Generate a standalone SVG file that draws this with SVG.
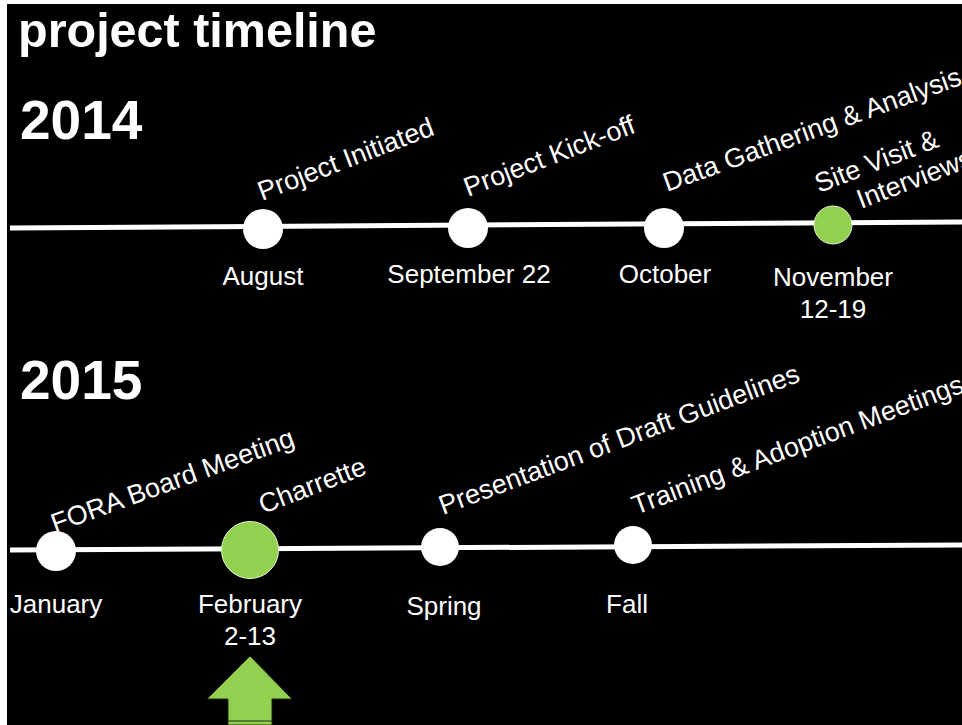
<svg xmlns="http://www.w3.org/2000/svg" width="962" height="725" viewBox="0 0 962 725">
  <style>
    .lbl { font-family: "Liberation Sans", Arial, sans-serif; font-size: 26px; fill: #ffffff; }
    .tag { font-family: "Liberation Sans", Arial, sans-serif; font-size: 27px; fill: #ffffff; }
    .mid { text-anchor: middle; }
    .year { font-family: "Liberation Sans", Arial, sans-serif; font-size: 55px; font-weight: bold; fill: #ffffff; }
    .title { font-family: "Liberation Sans", Arial, sans-serif; font-size: 48.5px; font-weight: bold; fill: #ffffff; }
    .track { stroke: #ffffff; stroke-width: 5; fill: none; }
    .dot { fill: #ffffff; }
    .hot { fill: #92d050; stroke: #e4f4d2; stroke-width: 1; }
  </style>

  <!-- page frame -->
  <rect x="0" y="0" width="962" height="725" fill="#ffffff"/>
  <rect x="7" y="4" width="955" height="721" fill="#000000"/>

  <text class="title" x="18" y="47">project timeline</text>
  <text class="year" x="20" y="139">2014</text>
  <text class="year" x="20" y="399">2015</text>

  <!-- timeline tracks -->
  <g id="connectors">
    <line class="track" x1="10" y1="228" x2="962" y2="222"/>
    <line class="track" x1="10" y1="550" x2="962" y2="545"/>
  </g>

  <!-- 2014 milestones -->
  <g id="aug2014">
    <circle class="dot" cx="263" cy="229" r="20"/>
    <text class="tag" transform="translate(262,201) rotate(-21)">Project Initiated</text>
    <text class="lbl mid" x="263" y="285">August</text>
  </g>
  <g id="sep2014">
    <circle class="dot" cx="468" cy="228" r="20"/>
    <text class="tag" transform="translate(468,197) rotate(-21)">Project Kick-off</text>
    <text class="lbl mid" x="469" y="283">September 22</text>
  </g>
  <g id="oct2014">
    <circle class="dot" cx="664" cy="228" r="20"/>
    <text class="tag" transform="translate(667,192) rotate(-20)">Data Gathering &amp; Analysis</text>
    <text class="lbl mid" x="665" y="283">October</text>
  </g>
  <g id="nov2014">
    <circle class="hot" cx="833" cy="225" r="19"/>
    <text class="tag" transform="translate(819,193) rotate(-21)">Site Visit &amp;</text>
    <text class="tag" transform="translate(861,209) rotate(-21)">Interviews</text>
    <text class="lbl mid" x="833" y="286">November</text>
    <text class="lbl mid" x="833" y="318">12-19</text>
  </g>

  <!-- 2015 milestones -->
  <g id="jan2015">
    <circle class="dot" cx="56" cy="551" r="20"/>
    <text class="tag" transform="translate(55,533) rotate(-20)">FORA Board Meeting</text>
    <text class="lbl mid" x="56" y="613">January</text>
  </g>
  <g id="feb2015">
    <circle class="hot" cx="250" cy="550" r="28.5"/>
    <text class="tag" transform="translate(263,514) rotate(-21)">Charrette</text>
    <text class="lbl mid" x="250" y="613">February</text>
    <text class="lbl mid" x="250" y="645">2-13</text>
  </g>
  <g id="spring2015">
    <circle class="dot" cx="440" cy="547" r="19"/>
    <text class="tag" transform="translate(443,515) rotate(-20.5)">Presentation of Draft Guidelines</text>
    <text class="lbl mid" x="444" y="615">Spring</text>
  </g>
  <g id="fall2015">
    <circle class="dot" cx="633" cy="545" r="19"/>
    <text class="tag" transform="translate(636,515) rotate(-20.5)">Training &amp; Adoption Meetings</text>
    <text class="lbl mid" x="627" y="613">Fall</text>
  </g>

  <!-- current-phase pointer -->
  <g id="pointer">
    <polygon points="250,656 292,699 272,699 272,725 228,725 228,699 207,699" fill="#92d050" stroke="#1e2a10" stroke-width="1"/>
    <line x1="228" y1="721" x2="272" y2="721" stroke="#1e2a10" stroke-width="1"/>
  </g>
</svg>
